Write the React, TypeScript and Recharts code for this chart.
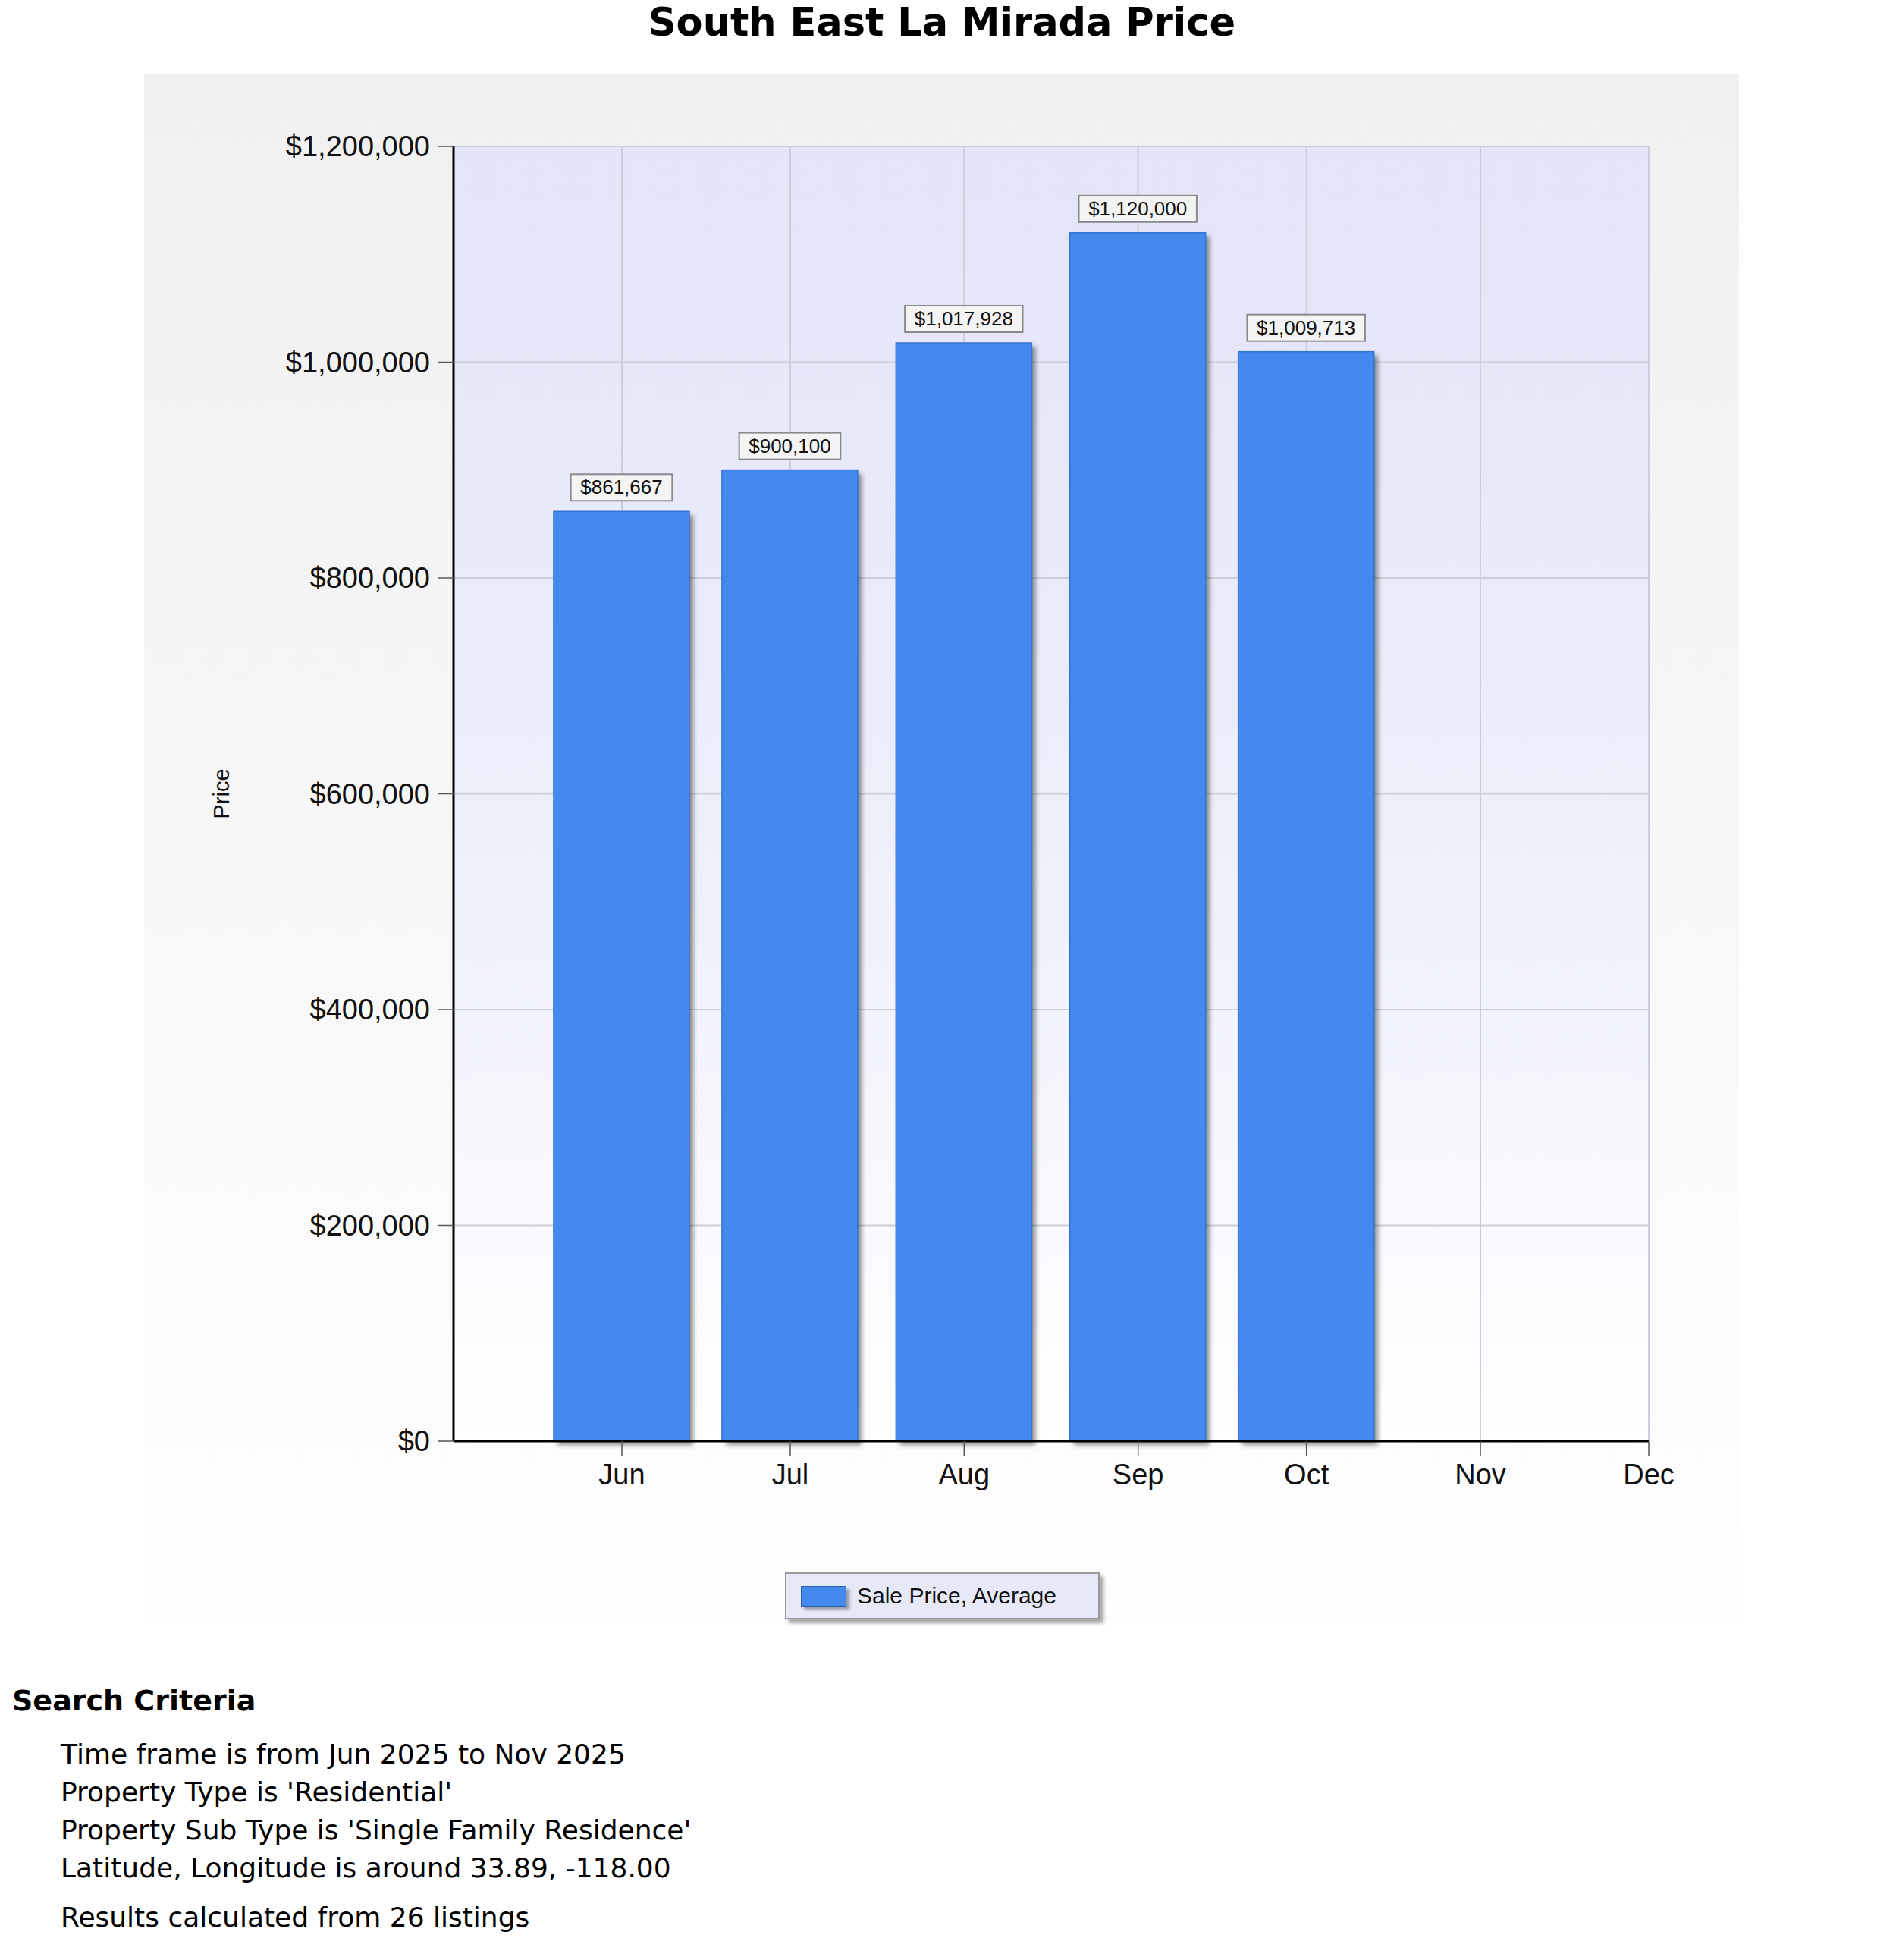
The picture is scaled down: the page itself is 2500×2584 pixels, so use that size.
import React from 'react'
import { BarChart, Bar, XAxis, YAxis, CartesianGrid, Legend, LabelList } from 'recharts'

const monthLabels = ['Jun', 'Jul', 'Aug', 'Sep', 'Oct', 'Nov', 'Dec']
const monthStarts = ['2025-06-01', '2025-07-01', '2025-08-01', '2025-09-01', '2025-10-01', '2025-11-01', '2025-12-01']
// Jun..Oct, no sales for Nov yet
const salePriceAverage = [861667, 900100, 1017928, 1120000, 1009713]
const priceTicks = [0, 200000, 400000, 600000, 800000, 1000000, 1200000]
const axisStart = '2025-05-02'

const criteria = [
  'Time frame is from Jun 2025 to Nov 2025',
  "Property Type is 'Residential'",
  "Property Sub Type is 'Single Family Residence'",
  'Latitude, Longitude is around 33.89, -118.00',
]
const resultsNote = 'Results calculated from 26 listings'

const toDay = (iso: string) => Date.parse(iso + 'T00:00:00Z') / 86400000
const money = (v: number) => '$' + v.toLocaleString('en-US')

const dayTicks = monthStarts.map(toDay)
const data = salePriceAverage.map((value, i) => ({
  day: toDay(monthStarts[i]),
  month: monthLabels[i],
  value,
}))

const ARIAL = '"Liberation Sans", Arial, sans-serif'
const VERDANA = '"DejaVu Sans", Verdana, sans-serif'
const BLUE = '#448aee'

function BarWithShadow(props: any) {
  const { x, y, width, height } = props
  if (!height) return null
  return (
    <g>
      <rect x={x} y={y} width={width} height={height} fill={BLUE} filter="url(#barShadow)" />
      <rect x={x} y={y} width={width} height={height} fill={BLUE} stroke="#3473d2" strokeWidth={1.5} />
    </g>
  )
}

function ValueLabel(props: any) {
  const { x, y, width, value } = props
  const text = money(value)
  let textW = 0
  for (const ch of text) textW += ch === ',' ? 7.2 : 14.5
  const w = textW + 25
  const cx = x + width / 2
  const bottom = y - 14
  return (
    <g>
      <rect x={cx - w / 2} y={bottom - 35} width={w} height={35} fill="#f4f4f4" stroke="#8a8a8a" strokeWidth={2} />
      <text x={cx} y={bottom - 9} textAnchor="middle" fontSize={26} fontFamily={ARIAL} fill="#111">
        {text}
      </text>
    </g>
  )
}

function PriceLabel(props: any) {
  const vb = props.viewBox || { x: 0, y: 95, width: 408, height: 1707 }
  const cx = vb.x + 102
  const cy = vb.y + vb.height / 2
  return (
    <text
      x={cx}
      y={cy}
      transform={`rotate(-90, ${cx}, ${cy})`}
      textAnchor="middle"
      dominantBaseline="central"
      fontSize={29}
      fontFamily={ARIAL}
      fill="#111"
    >
      Price
    </text>
  )
}

function LegendBox() {
  return (
    <div
      style={{
        width: 415,
        height: 62,
        boxSizing: 'border-box',
        border: '2px solid #9a9a9a',
        background: '#e7e9f8',
        boxShadow: '5px 5px 5px rgba(0,0,0,0.35)',
        display: 'flex',
        alignItems: 'center',
      }}
    >
      <div
        style={{
          width: 60,
          height: 27,
          marginLeft: 19,
          boxSizing: 'border-box',
          background: BLUE,
          border: '1px solid #2b5fae',
          boxShadow: '4px 4px 4px rgba(0,0,0,0.35)',
        }}
      />
      <span style={{ marginLeft: 14, fontFamily: ARIAL, fontSize: 30, color: '#111' }}>Sale Price, Average</span>
    </div>
  )
}

export default function App() {
  return (
    <div style={{ position: 'relative', width: 2500, height: 2584, margin: -8, background: '#fff' }}>
      <div
        style={{
          position: 'absolute',
          left: 0,
          top: 0,
          width: 2484,
          textAlign: 'center',
          fontFamily: VERDANA,
          fontWeight: 'bold',
          fontSize: 51,
          lineHeight: '60px',
          color: '#000',
        }}
      >
        South East La Mirada Price
      </div>

      <div
        style={{
          position: 'absolute',
          left: 190,
          top: 98,
          width: 2103,
          height: 2045,
          background: 'linear-gradient(to bottom, #f0f0f0, #fefefe)',
        }}
      >
        <BarChart
          width={2103}
          height={2045}
          data={data}
          margin={{ top: 95, right: 119, left: 0, bottom: 163 }}
          barSize={179}
        >
          <defs>
            <linearGradient id="plotBg" x1="0" y1="0" x2="0" y2="1">
              <stop offset="0%" stopColor="#e3e5f8" />
              <stop offset="50%" stopColor="#eceefa" />
              <stop offset="100%" stopColor="#ffffff" />
            </linearGradient>
            <filter id="barShadow" x="-20%" y="-20%" width="140%" height="140%">
              <feDropShadow dx={5} dy={5} stdDeviation={3} floodColor="#000" floodOpacity={0.45} />
            </filter>
          </defs>
          <CartesianGrid fill="url(#plotBg)" stroke="#cbced8" strokeWidth={2} />
          <XAxis
            dataKey="day"
            type="number"
            domain={[toDay(axisStart), dayTicks[dayTicks.length - 1]]}
            ticks={dayTicks}
            interval={0}
            tickFormatter={(d: number) => monthLabels[dayTicks.indexOf(d)] ?? ''}
            height={80}
            tickSize={20}
            tickMargin={10}
            tick={{ fontSize: 38, fill: '#111', fontFamily: ARIAL }}
            tickLine={{ stroke: '#555', strokeWidth: 1.5 }}
            axisLine={{ stroke: '#000', strokeWidth: 3 }}
          />
          <YAxis
            type="number"
            domain={[0, 1200000]}
            ticks={priceTicks}
            interval={0}
            width={408}
            tickFormatter={money}
            tickSize={20}
            tickMargin={11}
            tick={{ fontSize: 38, fill: '#111', fontFamily: ARIAL }}
            tickLine={{ stroke: '#555', strokeWidth: 1.5 }}
            axisLine={{ stroke: '#000', strokeWidth: 3 }}
            label={{ content: (p: any) => <PriceLabel {...p} /> }}
          />
          <Legend
            layout="horizontal"
            verticalAlign="middle"
            align="center"
            content={() => <LegendBox />}
            wrapperStyle={{ left: 845, top: 1975, width: 415, height: 62 }}
          />
          <Bar dataKey="value" name="Sale Price, Average" fill={BLUE} shape={<BarWithShadow />} isAnimationActive={false}>
            <LabelList dataKey="value" content={(p: any) => <ValueLabel {...p} />} />
          </Bar>
        </BarChart>
      </div>

      <div
        style={{
          position: 'absolute',
          left: 16,
          top: 2220,
          fontFamily: VERDANA,
          fontWeight: 'bold',
          fontSize: 38,
          lineHeight: '44px',
          color: '#000',
        }}
      >
        Search Criteria
      </div>
      <div
        style={{
          position: 'absolute',
          left: 80,
          top: 2288,
          fontFamily: VERDANA,
          fontSize: 36,
          lineHeight: '50px',
          color: '#000',
        }}
      >
        {criteria.map((line) => (
          <div key={line}>{line}</div>
        ))}
        <div style={{ marginTop: 15 }}>{resultsNote}</div>
      </div>
    </div>
  )
}
